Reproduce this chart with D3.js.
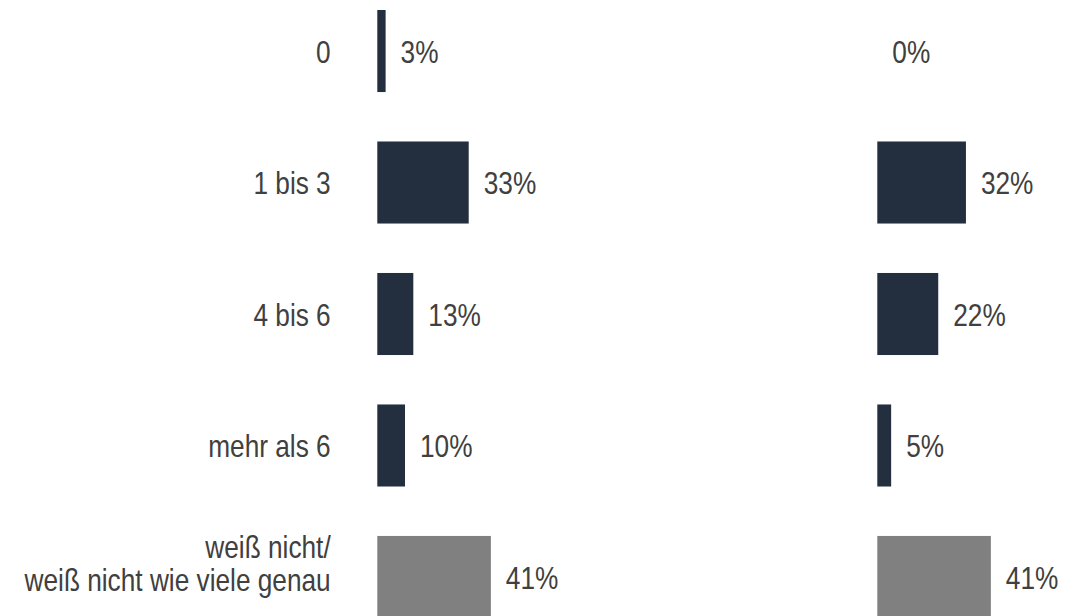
<!DOCTYPE html>
<html>
<head>
<meta charset="utf-8">
<script src="https://cdn.jsdelivr.net/npm/d3@7"></script>
<style>
	body { margin: 0; background: #fff; }
	svg text { font-family: "Liberation Sans", Arial, sans-serif; font-size: 32px; fill: #404040; }
</style>
</head>
<body>
<svg id="chart" width="1066" height="616"></svg>
<script>
// categories (the last one has two lines)
var categories = ["0", "1 bis 3", "4 bis 6", "mehr als 6", "weiß nicht/\nweiß nicht wie viele genau"];
var leftValues = [3, 33, 13, 10, 41];
var rightValues = [0, 32, 22, 5, 41];
var barColors = ["#232f3e", "#232f3e", "#232f3e", "#232f3e", "#808080"];

var narrow = 0.82; // no narrow font installed, so squeeze Liberation Sans

var svg = d3.select("#chart");

var y = d3.scaleBand()
	.domain(categories)
	.range([10, 618])
	.paddingInner(0.376)
	.paddingOuter(0);

// same scale for both panels, only the origin moves
var x = d3.scaleLinear().domain([0, 100]).range([0, 277]);

function place(px, py) {
	return "translate(" + px + "," + py + ") scale(" + narrow + ",1)";
}

function panel(values, x0) {
	var g = svg.append("g").attr("transform", "translate(" + x0 + ",0)");

	g.selectAll("rect")
		.data(values)
		.enter().append("rect")
		.attr("x", 0)
		.attr("y", function(d, i) { return y(categories[i]); })
		.attr("width", function(d) { return x(d); })
		.attr("height", y.bandwidth())
		.attr("fill", function(d, i) { return barColors[i]; });

	g.selectAll("text.val")
		.data(values)
		.enter().append("text")
		.attr("class", "val")
		.attr("transform", function(d, i) {
			return place(x(d) + 15, y(categories[i]) + y.bandwidth() / 2);
		})
		.attr("dy", "0.37em")
		.text(function(d) { return d + "%"; });
}

panel(leftValues, 377.3);
panel(rightValues, 877.3);

// category labels
var labels = svg.append("g");
categories.forEach(function(c) {
	var lines = c.split("\n");
	var cy = y(c) + y.bandwidth() / 2;
	var t = labels.append("text")
		.attr("text-anchor", "end")
		.attr("transform", place(330.7, cy));
	if (lines.length == 1) {
		t.attr("dy", "0.37em").text(c);
	} else {
		t.selectAll("tspan")
			.data(lines)
			.enter().append("tspan")
			.attr("x", 0)
			.attr("y", function(d, i) { return -19 + i * 33; })
			.text(function(d) { return d; });
	}
});
</script>
</body>
</html>
